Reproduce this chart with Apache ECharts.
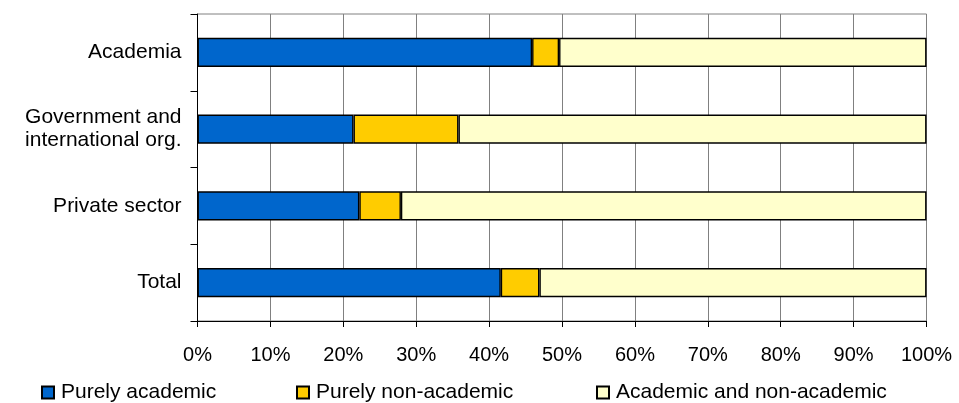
<!DOCTYPE html>
<html>
<head>
<meta charset="utf-8">
<script src="https://cdn.jsdelivr.net/npm/echarts@6/dist/echarts.min.js"></script>
<style>
  html, body { margin: 0; padding: 0; background: #ffffff; }
  #chart { width: 959px; height: 403px; }
</style>
</head>
<body>
<div id="chart"></div>
<script>
// Sectors, listed top to bottom
const categories = ['Academia', 'Government and\ninternational org.', 'Private sector', 'Total'];

// Share of each profile per sector (%)
const purelyAcademic    = [45.9, 21.4, 22.2, 41.6];
const purelyNonAcademic = [3.7, 14.4, 5.7, 5.3];
const academicAndNon    = [50.4, 64.2, 72.1, 53.1];

const seriesNames = ['Purely academic', 'Purely non-academic', 'Academic and non-academic'];
const seriesColors = ['#0066CC', '#FFCC00', '#FFFFCC'];
const seriesValues = [purelyAcademic, purelyNonAcademic, academicAndNon];

const FONT = "'Liberation Sans', Arial, sans-serif";

const chart = echarts.init(document.getElementById('chart'), null, { renderer: 'canvas' });

const legendLefts = [41, 296, 596];

chart.setOption({
  animation: false,
  backgroundColor: '#ffffff',
  textStyle: { fontFamily: FONT },
  grid: {
    left: 197.5, right: 32.5, top: 14, bottom: 82,
    show: true, borderColor: '#808080', borderWidth: 1, backgroundColor: 'transparent'
  },
  legend: seriesNames.map((name, i) => ({
    data: [name],
    left: legendLefts[i],
    top: 382,
    padding: 0,
    icon: 'rect',
    itemWidth: 12,
    itemHeight: 12,
    itemGap: 0,
    textStyle: { fontFamily: FONT, fontSize: 21, color: '#000', padding: [0, 0, 0, 2] }
  })),
  xAxis: {
    type: 'value',
    min: 0, max: 100, interval: 10,
    axisLine: { show: true, lineStyle: { color: '#000', width: 1 } },
    axisTick: { show: true, length: 6, inside: false, lineStyle: { color: '#000' } },
    axisLabel: { formatter: '{value}%', fontFamily: FONT, fontSize: 20, color: '#000', margin: 24 },
    splitLine: { show: true, lineStyle: { color: '#808080', width: 1 } }
  },
  yAxis: {
    type: 'category',
    data: categories,
    inverse: true,
    axisLine: { show: true, lineStyle: { color: '#000', width: 1 } },
    axisTick: { show: true, length: 7, alignWithLabel: false, lineStyle: { color: '#000' } },
    axisLabel: { fontFamily: FONT, fontSize: 21, color: '#000', margin: 16, lineHeight: 23, align: 'right' },
    splitLine: { show: false }
  },
  series: seriesNames.map((name, i) => ({
    name: name,
    type: 'bar',
    stack: 'share',
    barWidth: '38%',
    data: seriesValues[i],
    itemStyle: { color: seriesColors[i], borderColor: '#000', borderWidth: 1.4 },
    emphasis: { disabled: true }
  }))
});
</script>
</body>
</html>
